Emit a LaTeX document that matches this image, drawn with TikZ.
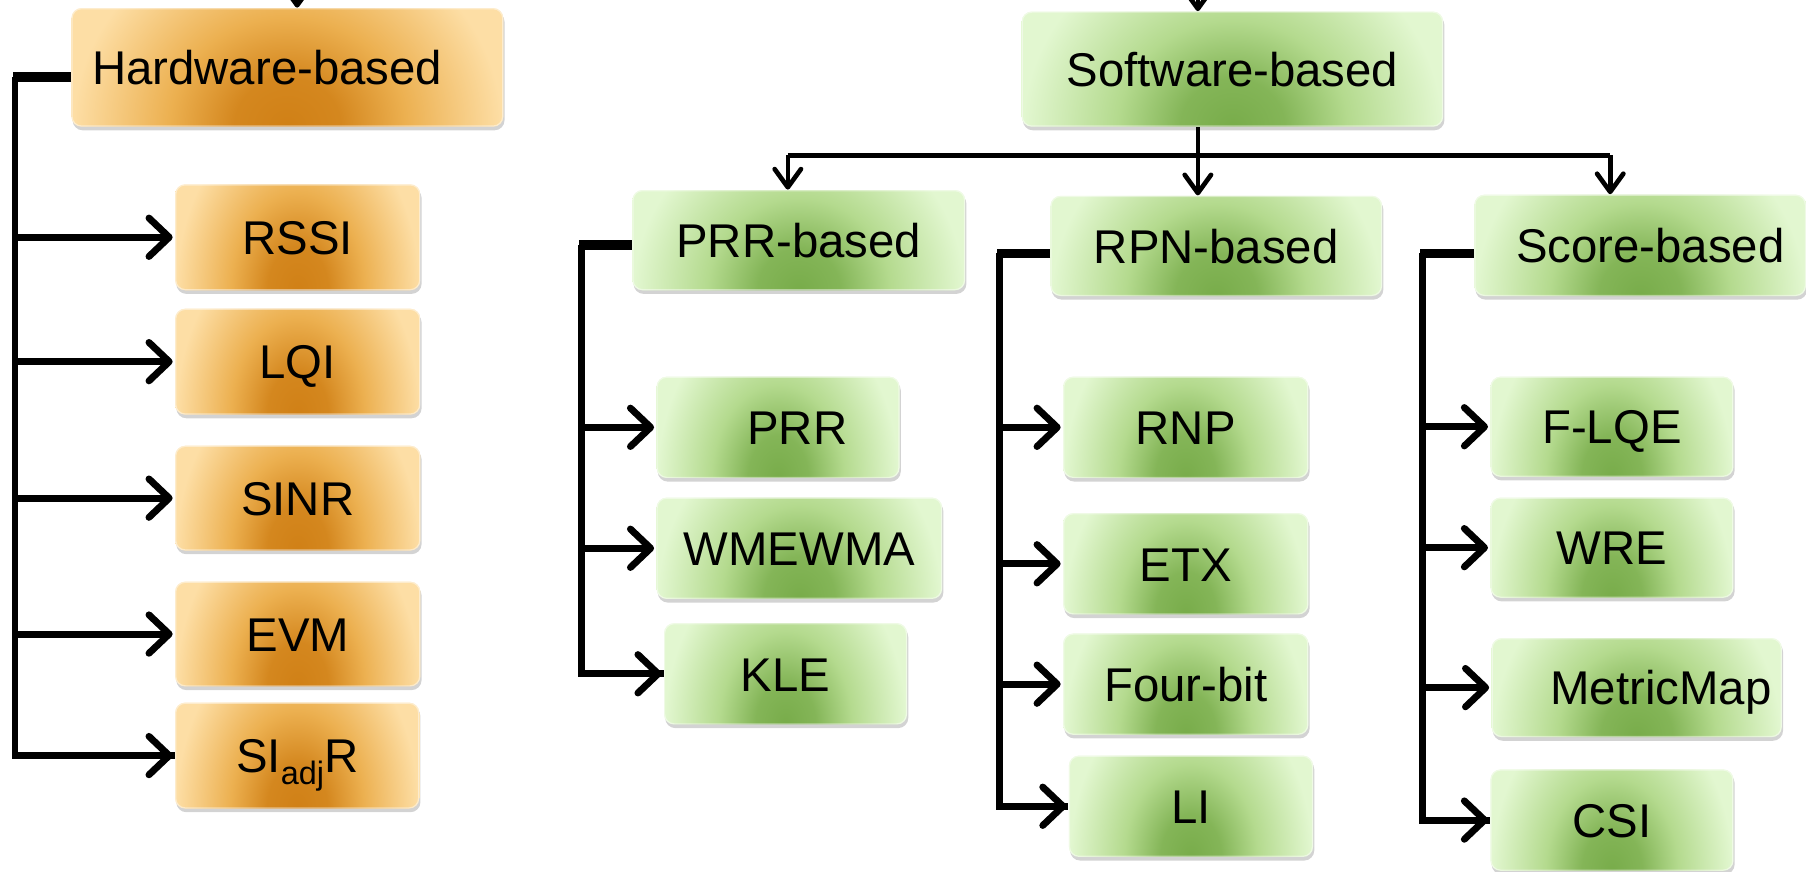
\documentclass[tikz,border=0pt]{standalone}
\usepackage{fontspec}
\setmainfont{Liberation Sans}
\usetikzlibrary{arrows.meta,shadows,calc}

% box colours
\definecolor{odark}{RGB}{208,128,22}
\definecolor{omid}{RGB}{236,176,80}
\definecolor{olight}{RGB}{253,222,165}
\definecolor{gdark}{RGB}{120,172,74}
\definecolor{gmid}{RGB}{180,218,142}
\definecolor{glight}{RGB}{226,247,208}

% soft glow that is darkest at the bottom centre of a box
\pgfdeclareradialshading{orangeglow}{\pgfpoint{0bp}{0bp}}{%
  color(0bp)=(odark); color(5bp)=(odark!85!omid); color(11bp)=(omid);
  color(20bp)=(olight); color(50bp)=(olight)}
\pgfdeclareradialshading{greenglow}{\pgfpoint{0bp}{0bp}}{%
  color(0bp)=(gdark); color(5bp)=(gdark!80!gmid); color(11bp)=(gmid);
  color(20bp)=(glight); color(50bp)=(glight)}

\tikzset{
  sz/.style 2 args={minimum width={#1*0.02cm}, minimum height={#2*0.02cm}},
  glowbox/.style={rounded corners=5pt, inner sep=0pt, text height=17pt, text depth=0pt,
    font=\fontsize{23.4}{28}\selectfont,
    drop shadow={shadow xshift=0.6pt, shadow yshift=-1.8pt, opacity=0.35},
    path picture={
      \shade[shading=#1]
        let \p1=(path picture bounding box.south west),
            \p2=(path picture bounding box.north east) in
        ({0.5*\x1+0.5*\x2},\y1) ellipse [x radius={0.62*(\x2-\x1)}, y radius={2.1*(\y2-\y1)}];
      \draw[white, opacity=0.45, line width=1.2pt, rounded corners=5pt]
        (path picture bounding box.south west) rectangle (path picture bounding box.north east);
    }},
  obox/.style={glowbox=orangeglow},
  gbox/.style={glowbox=greenglow},
  wire/.style={line width=3.4pt},
  stub/.style={line width=4.8pt},
  arr/.style={line width=3.4pt, shorten >=1pt, -{Straight Barb[length=10pt,width=19pt,round]}},
  tarr/.style={line width=2.3pt, -{Straight Barb[length=9pt,width=13pt,round]}},
}

\begin{document}
\begin{tikzpicture}[x=0.02cm, y=-0.02cm]
\useasboundingbox (0,0) rectangle (1568,757);

% ---------------- hardware branch ----------------
\node[obox, sz={375}{103}] (hw) at (249.5,58.5) {\kern-20pt Hardware-based};
\node[obox, sz={213}{92}] (rssi) at (258.5,206) {RSSI};
\node[obox, sz={213}{92}] (lqi)  at (258.5,314) {LQI};
\node[obox, sz={213}{91}] (sinr) at (258.5,432.5) {SINR};
\node[obox, sz={213}{91}] (evm)  at (258.5,550.5) {EVM};
\node[obox, sz={212}{92}] (siadj) at (258,656) {SI\raisebox{-6pt}{\fontsize{16}{16}\selectfont adj}R};

% ---------------- software branch ----------------
\node[gbox, sz={366}{100}] (sw) at (1070,60) {Software-based};

\node[gbox, sz={289}{87}] (prrb) at (693.5,208.5) {PRR-based};
\node[gbox, sz={288}{87}] (rpnb) at (1056,213.5) {RPN-based};
\node[gbox, sz={288}{88}] (scb)  at (1424,213) {\kern10pt Score-based};

\node[gbox, sz={211}{88}] (prr) at (675.5,371) {\kern19pt PRR};
\node[gbox, sz={248}{88}] (wme) at (694,476) {WMEWMA};
\node[gbox, sz={211}{88}] (kle) at (682,585) {KLE};

\node[gbox, sz={213}{88}] (rnp) at (1029.5,371) {RNP};
\node[gbox, sz={213}{88}] (etx) at (1029.5,489.5) {ETX};
\node[gbox, sz={213}{88}] (fb)  at (1029.5,594) {Four-bit};
\node[gbox, sz={212}{88}] (li)  at (1034,700) {LI};

\node[gbox, sz={211}{87}] (flqe) at (1399.5,370.5) {F-LQE};
\node[gbox, sz={211}{87}] (wre)  at (1399.5,475.5) {WRE};
\node[gbox, sz={252}{86}] (mm)   at (1421,597) {\kern24pt MetricMap};
\node[gbox, sz={211}{88}] (csi)  at (1399.5,712) {CSI};

% ---------------- incoming arrows from above ----------------
\coordinate (hwin) at (258,-30);
\coordinate (swin) at (1040,-30);
\draw[tarr] (hwin) -- (hwin |- hw.north);
\draw[tarr] (swin) -- (swin |- sw.north);

% ---------------- hardware bracket ----------------
\coordinate (hwbus) at (13,67);
\draw[stub] (hw.west |- hwbus) -- ([xshift=-1.2pt]hwbus);
\draw[wire] (hwbus) |- (siadj.west);
\foreach \n in {rssi,lqi,sinr,evm,siadj}
  \draw[arr] (hwbus |- \n.west) -- (\n.west);

% ---------------- software fan-out ----------------
\coordinate (swbus) at (1040,135);
\coordinate (fanl) at (684,135);
\coordinate (fanr) at (1398,135);
\draw[tarr, -] (sw.south -| swbus) -- (swbus);
\draw[tarr, -] (fanl) -- (fanr);
\draw[tarr] (fanl) -- (fanl |- prrb.north);
\draw[tarr] (swbus) -- (swbus |- rpnb.north);
\draw[tarr] (fanr) -- (fanr |- scb.north);

% ---------------- PRR-based bracket ----------------
\coordinate (prrbus) at (505,213);
\draw[stub] (prrb.west |- prrbus) -- ([xshift=-1.2pt]prrbus);
\draw[wire] (prrbus) |- (kle.west);
\foreach \n in {prr,wme,kle}
  \draw[arr] (prrbus |- \n.west) -- (\n.west);

% ---------------- RPN-based bracket ----------------
\coordinate (rpnbus) at (868,220);
\draw[stub] (rpnb.west |- rpnbus) -- ([xshift=-1.2pt]rpnbus);
\draw[wire] (rpnbus) |- (li.west);
\foreach \n in {rnp,etx,fb,li}
  \draw[arr] (rpnbus |- \n.west) -- (\n.west);

% ---------------- Score-based bracket ----------------
\coordinate (scbus) at (1235,220);
\draw[stub] (scb.west |- scbus) -- ([xshift=-1.2pt]scbus);
\draw[wire] (scbus) |- (csi.west);
\foreach \n in {flqe,wre,mm,csi}
  \draw[arr] (scbus |- \n.west) -- (\n.west);
\end{tikzpicture}
\end{document}
